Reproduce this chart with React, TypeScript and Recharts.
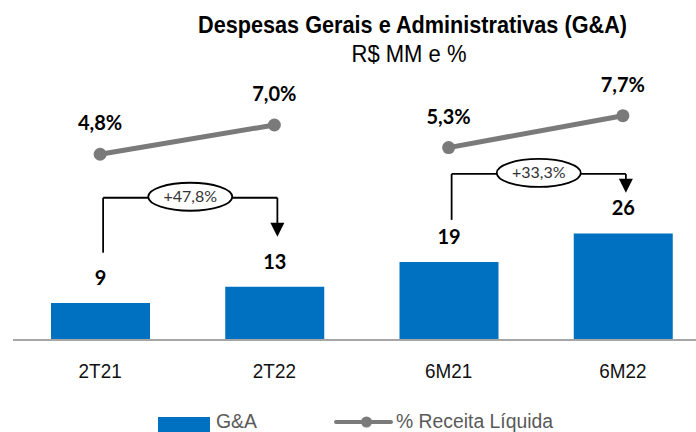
import React from 'react';
import {
  ComposedChart,
  Bar,
  Line,
  XAxis,
  YAxis,
  LabelList,
  ReferenceLine,
} from 'recharts';

const categories = ['2T21', '2T22', '6M21', '6M22'];
const gaValues = [9, 13, 19, 26];
// % of net revenue, drawn as two separate segments (quarter vs half-year)
const pctFirst = [4.8, 7.0, null, null];
const pctSecond = [null, null, 5.3, 7.7];

// growth brackets, heights in R$ MM on the bar axis
const growthFrom = ['2T21', '6M21'];
const growthTo = ['2T22', '6M22'];
const growthStart = [21.3, 29.3];
const growthTop = [34.7, 40.5];
const growthEnd = [25.2, 35.9];
const growthLabels = ['+47,8%', '+33,3%'];

const data = categories.map((name, i) => ({
  name,
  ga: gaValues[i],
  pctA: pctFirst[i],
  pctB: pctSecond[i],
}));

const BLUE = '#0070c0';
const GREY = '#7a7a7a';
const NUM_FONT = 'Lato, "Open Sans", sans-serif';
const TXT_FONT = '"Liberation Sans", Arial, sans-serif';
const SHIFT = 3;

const fmtPct = (v: number) => v.toFixed(1).replace('.', ',') + '%';

const BarValue = (p: any) => {
  if (p.value == null) return null;
  const vb = p.viewBox || p;
  return (
    <text x={vb.x + vb.width / 2} y={vb.y - 18} textAnchor="middle" fontFamily={NUM_FONT} fontWeight={700} fontSize={20} fill="#000">
      {p.value}
    </text>
  );
};

const PctValue = (p: any) => {
  if (p.value == null) return null;
  const vb = p.viewBox || p;
  const x = vb.x + (vb.width || 0) / 2;
  return (
    <text x={x} y={vb.y - 24} textAnchor="middle" fontFamily={NUM_FONT} fontWeight={700} fontSize={20} fill="#000">
      {fmtPct(p.value)}
    </text>
  );
};

const Leg = (p: any) => (
  <line x1={p.x1 + SHIFT} y1={p.y1} x2={p.x2 + SHIFT} y2={p.y2} stroke="#000" strokeWidth={1.8} />
);

const makeBridge = (label: string) => (p: any) => {
  const cx = (p.x1 + p.x2) / 2 + SHIFT;
  return (
    <g>
      <line x1={p.x1 + SHIFT} y1={p.y1} x2={p.x2 + SHIFT} y2={p.y2} stroke="#000" strokeWidth={1.8} />
      <ellipse cx={cx} cy={p.y1 - 1} rx={42} ry={14} fill="#fff" stroke="#000" strokeWidth={1.8} />
      <text x={cx} y={p.y1 + 4} textAnchor="middle" fontFamily={NUM_FONT} fontSize={16} fill="#333">
        {label}
      </text>
    </g>
  );
};

const Arrow = (p: any) => {
  const x = p.x2 + SHIFT;
  const tip = p.y2;
  return (
    <g>
      <line x1={x} y1={p.y1} x2={x} y2={tip - 12} stroke="#000" strokeWidth={1.8} />
      <polygon points={`${x - 7},${tip - 14} ${x + 7},${tip - 14} ${x},${tip}`} fill="#000" />
    </g>
  );
};

const CategoryTick = (p: any) => (
  <text
    transform={`translate(${p.x},${p.y + 30}) scale(0.9,1)`}
    textAnchor="middle"
    fontFamily={TXT_FONT}
    fontSize={21}
    fill="#111"
  >
    {p.payload.value}
  </text>
);

export default function App() {
  return (
    <div style={{ position: 'fixed', left: 0, top: 0, width: 696, height: 432, overflow: 'hidden', background: '#fff' }}>
      <ComposedChart
        width={710}
        height={432}
        data={data}
        margin={{ top: 60, right: 0, left: 13, bottom: 52 }}
      >
        <XAxis
          dataKey="name"
          height={40}
          axisLine={{ stroke: '#a6a6a6', strokeWidth: 2 }}
          tickLine={false}
          tick={<CategoryTick />}
          interval={0}
        />
        <YAxis yAxisId="bar" hide domain={[0, 68.3]} allowDataOverflow />
        <YAxis yAxisId="pct" hide domain={[-9.165, 11.887]} allowDataOverflow />
        <Bar yAxisId="bar" dataKey="ga" name="G&A" fill={BLUE} barSize={99} isAnimationActive={false}>
          <LabelList dataKey="ga" content={<BarValue />} />
        </Bar>
        {['pctA', 'pctB'].map((k) => (
          <Line
            key={k}
            yAxisId="pct"
            dataKey={k}
            name="% Receita Líquida"
            stroke={GREY}
            strokeWidth={5}
            dot={{ r: 6.5, fill: GREY, stroke: GREY, strokeWidth: 0 }}
            activeDot={false}
            connectNulls={false}
            isAnimationActive={false}
          >
            <LabelList dataKey={k} content={<PctValue />} />
          </Line>
        ))}
        {growthLabels.map((label, i) => (
          <React.Fragment key={label}>
            <ReferenceLine
              yAxisId="bar"
              segment={[{ x: growthFrom[i], y: growthStart[i] }, { x: growthFrom[i], y: growthTop[i] }]}
              shape={Leg}
            />
            <ReferenceLine
              yAxisId="bar"
              segment={[{ x: growthFrom[i], y: growthTop[i] }, { x: growthTo[i], y: growthTop[i] }]}
              shape={makeBridge(label)}
            />
            <ReferenceLine
              yAxisId="bar"
              segment={[{ x: growthTo[i], y: growthTop[i] }, { x: growthTo[i], y: growthEnd[i] }]}
              shape={Arrow}
            />
          </React.Fragment>
        ))}
      </ComposedChart>
      <svg width={696} height={432} style={{ position: 'absolute', left: 0, top: 0, pointerEvents: 'none' }}>
        <text x={412.5} y={32.5} textAnchor="middle" fontFamily={TXT_FONT} fontWeight={700} fontSize={24} textLength={429} lengthAdjust="spacingAndGlyphs" fill="#000">
          Despesas Gerais e Administrativas (G&amp;A)
        </text>
        <text x={409} y={62} textAnchor="middle" fontFamily={TXT_FONT} fontSize={24} textLength={115} lengthAdjust="spacingAndGlyphs" fill="#000">
          R$ MM e %
        </text>
        <rect x={158} y={417} width={52} height={15} fill={BLUE} />
        <text x={216} y={428} fontFamily={TXT_FONT} fontSize={20} textLength={41} lengthAdjust="spacingAndGlyphs" fill="#595959">
          G&amp;A
        </text>
        <line x1={336} y1={422} x2={391} y2={422} stroke={GREY} strokeWidth={4} strokeLinecap="round" />
        <circle cx={366.5} cy={422} r={5.5} fill={GREY} />
        <text x={396} y={428} fontFamily={TXT_FONT} fontSize={20} textLength={157} lengthAdjust="spacingAndGlyphs" fill="#595959">
          % Receita Líquida
        </text>
      </svg>
    </div>
  );
}
